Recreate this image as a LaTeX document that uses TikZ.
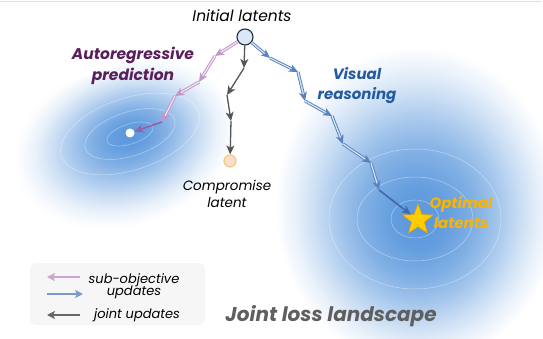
\documentclass[tikz,border=0pt]{standalone}
\usepackage{fontspec}
\setmainfont{Poppins}
\usetikzlibrary{arrows.meta,shapes.geometric}

\definecolor{blobcore}{RGB}{88,150,220}
\definecolor{pinkline}{RGB}{195,150,200}
\definecolor{pinkin}{RGB}{240,225,240}
\definecolor{pinkdark}{RGB}{150,95,170}
\definecolor{blueline}{RGB}{90,130,190}
\definecolor{bluein}{RGB}{212,225,242}
\definecolor{bluedark}{RGB}{65,105,170}
\definecolor{jointgray}{RGB}{85,85,85}
\definecolor{autotext}{RGB}{90,30,90}
\definecolor{vistext}{RGB}{35,90,160}
\definecolor{opttext}{RGB}{250,180,0}
\definecolor{landtext}{RGB}{95,95,95}
\definecolor{initfill}{RGB}{218,232,246}
\definecolor{initborder}{RGB}{30,45,65}
\definecolor{compfill}{RGB}{250,222,205}
\definecolor{compborder}{RGB}{245,200,110}
\definecolor{stargold}{RGB}{255,205,0}
\definecolor{starborder}{RGB}{235,160,0}
\definecolor{legendbg}{RGB}{246,246,246}

% soft basins, darkest a bit off the middle (path box = inner 50bp)
\pgfdeclareradialshading{basinL}{\pgfpoint{3.3bp}{4.5bp}}{color(0bp)=(blobcore); color(4bp)=(blobcore!92!white);
  color(8bp)=(blobcore!76!white); color(12bp)=(blobcore!55!white); color(16bp)=(blobcore!33!white);
  color(20bp)=(blobcore!14!white); color(23bp)=(blobcore!4!white); color(25bp)=(white); color(50bp)=(white)}
\pgfdeclareradialshading{basinR}{\pgfpoint{1bp}{-5bp}}{color(0bp)=(blobcore); color(5bp)=(blobcore!92!white);
  color(10bp)=(blobcore!75!white); color(14bp)=(blobcore!55!white); color(18bp)=(blobcore!32!white);
  color(21.5bp)=(blobcore!14!white); color(24bp)=(blobcore!4!white); color(25bp)=(white); color(50bp)=(white)}

\begin{document}
\begin{tikzpicture}[x=1pt,y=-1pt,>={Stealth[length=9pt,width=8pt,inset=2.5pt]},
  sub pink/.style={->,draw=pinkline,double=pinkin,double distance=1.3pt,line width=0.9pt},
  sub blue/.style={->,draw=blueline,double=bluein,double distance=1.3pt,line width=0.9pt},
  joint/.style={->,draw=jointgray,line width=1.3pt},
  key/.style={-{Stealth[length=8pt,width=8pt,inset=2pt]},line width=2pt},
  lab/.style={font=\itshape\fontsize{#1}{#1}\selectfont,align=center,inner sep=0pt},
  boldlab/.style={font=\bfseries\itshape\fontsize{#1}{#1}\selectfont,align=center,inner sep=0pt},
  contour/.style={white,opacity=0.45,line width=0.5pt}]

\useasboundingbox (0,0) rectangle (543,339);
\draw[gray!25,line width=1pt] (0,2)--(542,2);

% basins
\begin{scope}[transform canvas={rotate around={18:(120,153)}}]
\shade[shading=basinL] (5,70) rectangle (235,236);
\end{scope}
\shade[shading=basinR] (272,30) rectangle (556,350);

% contour lines
\foreach \a/\b in {24/10,47/22,72/36}
  \draw[contour,rotate around={18:(130,134)}] (130,134) ellipse ({\a} and {\b});
\foreach \a/\b in {24/19,58/42,86/70}
  \draw[contour] (415,219) ellipse ({\a} and {\b});

% start, end points
\node[circle,draw=initborder,fill=initfill,line width=1.1pt,minimum size=16pt,inner sep=0pt] (init) at (245,37) {};
\node[circle,draw=compborder,fill=compfill,line width=1.1pt,minimum size=12pt,inner sep=0pt] (comp) at (230,161) {};
\node[circle,fill=white,minimum size=9pt,inner sep=0pt] (tgt) at (130,133) {};
\node[star,star points=5,star point ratio=2.4,fill=stargold,draw=starborder,line width=0.6pt,minimum size=32pt,inner sep=0pt] (opt) at (418,220) {};

\coordinate (p1) at (215,56);
\coordinate (p2) at (199,82);
\coordinate (p3) at (175,96);
\coordinate (p4) at (162,122);

\coordinate (g1) at (244,68);
\coordinate (g2) at (227,95);
\coordinate (g3) at (231,121);

\coordinate (b1) at (270,58);
\coordinate (b2) at (298,72);
\coordinate (b3) at (305,101);
\coordinate (b4) at (332,116);
\coordinate (b5) at (343,144);
\coordinate (b6) at (371,163);
\coordinate (b7) at (379,190);

% update steps
\draw[sub pink] (init) -- (p1);
\draw[sub pink] (p1) -- (p2);
\draw[sub pink] (p2) -- (p3);
\draw[sub pink] (p3) -- (p4);
\draw[->,draw=pinkdark,line width=1.6pt] (p4) -- (tgt);

\draw[joint] (init) -- (g1);
\draw[joint] (g1) -- (g2);
\draw[joint] (g2) -- (g3);
\draw[joint] (g3) -- (comp);

\draw[sub blue] (init) -- (b1);
\draw[sub blue] (b1) -- (b2);
\draw[sub blue] (b2) -- (b3);
\draw[sub blue] (b3) -- (b4);
\draw[sub blue] (b4) -- (b5);
\draw[sub blue] (b5) -- (b6);
\draw[sub blue] (b6) -- (b7);
\draw[->,draw=bluedark,line width=1.6pt] (b7) -- (opt);

% labels
\node[lab=15.5] (initlab) at (242,16) {Initial latents};
\node[boldlab=15.5,text=autotext] (autolab) at (133,66) {Autoregressive\\[4pt]prediction};
\node[boldlab=15,text=vistext] (vislab) at (357,86) {Visual\\[5pt]reasoning};
\node[lab=13.5] (complab) at (227,194) {Compromise\\[3pt]latent};
\node[boldlab=15,text=opttext] (optlab) at (461,213) {Optimal\\[4pt]latents};
\node[boldlab=20,text=landtext] (landlab) at (331,316) {Joint loss landscape};

% key
\fill[legendbg,rounded corners=6pt] (30,263) rectangle (205,325);
\coordinate (k1a) at (80,277);
\coordinate (k1b) at (47,277);
\coordinate (k2a) at (47,294);
\coordinate (k2b) at (83,294);
\coordinate (k3a) at (80,315);
\coordinate (k3b) at (47,315);
\draw[key,pinkline!85] (k1a) -- (k1b);
\draw[key,blueline!80] (k2a) -- (k2b);
\draw[key,jointgray!90] (k3a) -- (k3b);
\node[lab=13] (k12lab) at (134,286) {sub-objective\\[-1pt]updates};
\node[lab=13] (k3lab) at (137,315) {joint updates};

\end{tikzpicture}
\end{document}
